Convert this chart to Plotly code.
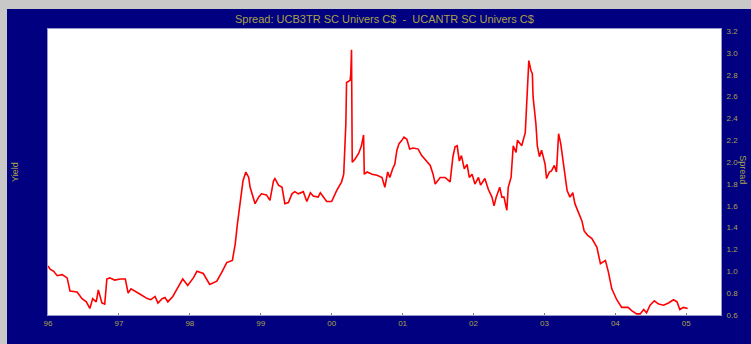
import plotly.graph_objects as go

# Decimal year positions and spread values
years = [
    1996.00, 1996.03, 1996.08, 1996.13, 1996.20, 1996.27, 1996.31, 1996.41, 1996.48, 1996.54,
    1996.59, 1996.63, 1996.68, 1996.71, 1996.76, 1996.80, 1996.83, 1996.87, 1996.94, 1997.02,
    1997.09, 1997.13, 1997.17, 1997.23, 1997.30, 1997.40, 1997.45, 1997.51, 1997.55, 1997.61,
    1997.65, 1997.69, 1997.76, 1997.83, 1997.90, 1997.97, 1998.05, 1998.10, 1998.19, 1998.28,
    1998.38, 1998.45, 1998.52, 1998.60, 1998.64, 1998.67, 1998.71, 1998.75, 1998.79, 1998.83,
    1998.85, 1998.89, 1998.92, 1998.97, 1999.01, 1999.08, 1999.13, 1999.18, 1999.20, 1999.25,
    1999.30, 1999.34, 1999.39, 1999.44, 1999.48, 1999.53, 1999.60, 1999.65, 1999.70, 1999.74,
    1999.81, 1999.84, 1999.88, 1999.93, 2000.00, 2000.07, 2000.14, 2000.17, 2000.20, 2000.21,
    2000.26, 2000.27, 2000.28, 2000.29, 2000.33, 2000.38, 2000.42, 2000.45, 2000.46, 2000.50,
    2000.57, 2000.64, 2000.71, 2000.75, 2000.79, 2000.82, 2000.86, 2000.89, 2000.92, 2000.95,
    2000.99, 2001.02, 2001.06, 2001.10, 2001.15, 2001.22, 2001.27, 2001.34, 2001.39, 2001.43,
    2001.46, 2001.53, 2001.60, 2001.67, 2001.71, 2001.74, 2001.77, 2001.80, 2001.83, 2001.87,
    2001.91, 2001.94, 2001.98, 2002.02, 2002.07, 2002.10, 2002.16, 2002.21, 2002.26, 2002.29,
    2002.32, 2002.37, 2002.40, 2002.43, 2002.47, 2002.49, 2002.53, 2002.56, 2002.60, 2002.62,
    2002.68, 2002.73, 2002.76, 2002.78, 2002.81, 2002.83, 2002.84, 2002.88, 2002.90, 2002.93,
    2002.96, 2003.01, 2003.03, 2003.07, 2003.10, 2003.14, 2003.17, 2003.20, 2003.23, 2003.27,
    2003.29, 2003.32, 2003.36, 2003.40, 2003.43, 2003.48, 2003.53, 2003.56, 2003.61, 2003.67,
    2003.74, 2003.79, 2003.86, 2003.90, 2003.95, 2004.02, 2004.09, 2004.18, 2004.23, 2004.30,
    2004.35, 2004.40, 2004.44, 2004.49, 2004.55, 2004.61, 2004.68, 2004.75, 2004.82, 2004.87,
    2004.91, 2004.96, 2005.02,
]
spread = [
    1.05, 1.02, 1.00, 0.96, 0.97, 0.94, 0.82, 0.81, 0.75, 0.72,
    0.66, 0.75, 0.72, 0.83, 0.71, 0.70, 0.93, 0.94, 0.92, 0.93,
    0.93, 0.80, 0.84, 0.82, 0.79, 0.75, 0.74, 0.77, 0.71, 0.75,
    0.76, 0.72, 0.77, 0.85, 0.93, 0.87, 0.94, 1.00, 0.98, 0.88,
    0.91, 0.99, 1.08, 1.10, 1.25, 1.43, 1.62, 1.83, 1.91, 1.86,
    1.77, 1.68, 1.62, 1.68, 1.71, 1.70, 1.65, 1.83, 1.85, 1.79,
    1.77, 1.62, 1.63, 1.71, 1.73, 1.71, 1.73, 1.64, 1.72, 1.69,
    1.68, 1.72, 1.68, 1.64, 1.64, 1.74, 1.82, 1.89, 2.35, 2.73,
    2.75, 2.81, 3.03, 2.00, 2.03, 2.08, 2.15, 2.25, 1.89, 1.91,
    1.89, 1.88, 1.86, 1.77, 1.91, 1.86, 1.94, 1.98, 2.11, 2.17,
    2.20, 2.23, 2.21, 2.12, 2.13, 2.12, 2.06, 2.01, 1.97, 1.89,
    1.80, 1.86, 1.86, 1.82, 2.05, 2.14, 2.15, 2.01, 2.06, 1.94,
    1.98, 1.86, 1.89, 1.80, 1.86, 1.79, 1.85, 1.75, 1.68, 1.60,
    1.68, 1.77, 1.68, 1.68, 1.56, 1.77, 1.86, 2.15, 2.09, 2.20,
    2.15, 2.27, 2.66, 2.93, 2.84, 2.81, 2.60, 2.35, 2.15, 2.05,
    2.11, 1.98, 1.85, 1.91, 1.92, 1.97, 1.91, 2.26, 2.17, 1.98,
    1.86, 1.74, 1.68, 1.72, 1.62, 1.54, 1.46, 1.37, 1.33, 1.30,
    1.22, 1.07, 1.10, 1.00, 0.84, 0.74, 0.67, 0.67, 0.64, 0.61,
    0.61, 0.65, 0.62, 0.69, 0.73, 0.70, 0.69, 0.71, 0.74, 0.72,
    0.65, 0.67, 0.66,
]

tick_years = [1996, 1997, 1998, 1999, 2000, 2001, 2002, 2003, 2004, 2005]
tick_labels = ["96", "97", "98", "99", "00", "01", "02", "03", "04", "05"]
title_text = "Spread: UCB3TR SC Univers C$  -  UCANTR SC Univers C$"

NAVY = "#000080"
TXT = "#aaa24a"
GRAY = "#c8c8c8"
FONT = "Liberation Sans"

fig = go.Figure()
fig.add_trace(go.Scatter(
    x=years, y=spread, mode="lines",
    line=dict(color="#ff0000", width=1.6),
    hoverinfo="skip", showlegend=False,
))

fig.update_layout(
    width=751, height=344,
    margin=dict(l=48, r=30, t=29, b=29),
    paper_bgcolor=NAVY,
    plot_bgcolor="white",
    font=dict(family=FONT, size=8, color=TXT),
    showlegend=False,
    xaxis=dict(
        range=[1996.0, 2005.49],
        tickvals=tick_years, ticktext=tick_labels,
        showgrid=False, zeroline=False,
        ticks="inside", ticklen=2, tickcolor="#808080",
        showline=True, linecolor="#9a9ac8", linewidth=1, mirror=True,
        tickfont=dict(family=FONT, size=8, color=TXT),
    ),
    yaxis=dict(
        range=[0.6, 3.22], side="right",
        tick0=0.6, dtick=0.2, tickformat=".1f",
        showgrid=False, zeroline=False,
        ticks="", ticklabelstandoff=3,
        showline=True, linecolor="#9a9ac8", linewidth=1, mirror=True,
        tickfont=dict(family=FONT, size=8, color=TXT),
    ),
    shapes=[
        # light gray outer frame (top and left strips)
        dict(type="rect", xref="paper", yref="paper", layer="above",
             x0=-0.1, x1=1.1, y0=(315 - 9) / 286, y1=1.2,
             fillcolor=GRAY, line=dict(width=0)),
        dict(type="rect", xref="paper", yref="paper", layer="above",
             x0=-0.1, x1=(7 - 48) / 673, y0=-0.2, y1=1.2,
             fillcolor=GRAY, line=dict(width=0)),
    ],
    annotations=[
        dict(text=title_text, xref="paper", yref="paper",
             x=0.5, y=(315 - 19) / 286, xanchor="center", yanchor="middle",
             showarrow=False, font=dict(family=FONT, size=11, color=TXT)),
        dict(text="Yield", xref="paper", yref="paper",
             x=(15 - 48) / 673, y=0.5, xanchor="center", yanchor="middle",
             textangle=-90, showarrow=False,
             font=dict(family=FONT, size=9, color=TXT)),
        dict(text="Spread", xref="paper", yref="paper",
             x=(743 - 48) / 673, y=0.51, xanchor="center", yanchor="middle",
             textangle=90, showarrow=False,
             font=dict(family=FONT, size=9, color=TXT)),
    ],
)

fig.write_html(
    "out.html",
    config={"displayModeBar": False},
    post_script="document.body.style.margin='0px';document.body.style.overflow='hidden';",
)
